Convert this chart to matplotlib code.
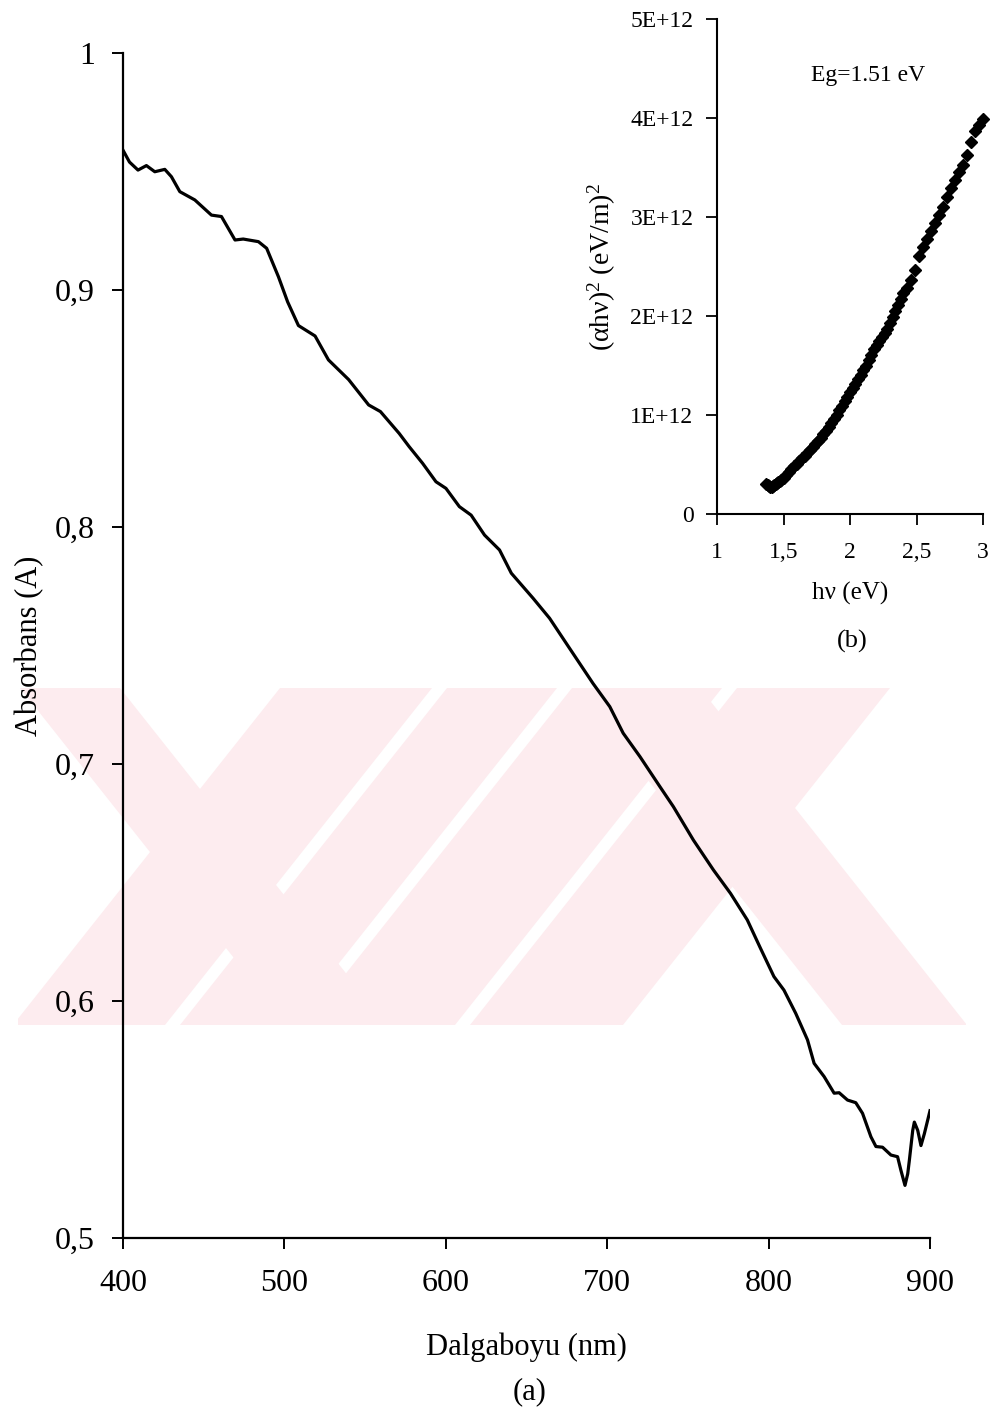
import matplotlib
matplotlib.use("Agg")
import matplotlib.pyplot as plt
from matplotlib.patches import Polygon, Rectangle

plt.rcParams['font.family'] = ['Liberation Serif', 'DejaVu Serif']
plt.rcParams['mathtext.fontset'] = 'custom'
plt.rcParams['mathtext.rm'] = 'Liberation Serif'
plt.rcParams['mathtext.it'] = 'Liberation Serif:italic'

# ---- main spectrum (a) ----
wavelength_nm = [400, 404.0, 409.3, 414.5, 419.7, 425.9, 430.0, 435.2, 444.5, 454.8, 461.0,
                 469.4, 474.5, 483.9, 489.0, 496.3, 502.0, 508.7, 519.0, 527.3, 539.8, 552.2,
                 559.5, 571.1, 577.3, 585.6, 593.9, 600.1, 608.4, 615.7, 624.0, 633.3,
                 640.6, 654.0, 664.3, 676.7, 691.2, 701.6, 709.9, 720.3, 732.7, 741.0,
                 753.4, 765.8, 776.4, 786.8, 795.0, 803.3, 809.5, 816.8, 824.1, 828.2,
                 834.4, 840.6, 843.7, 848.9, 854.0, 858.2, 863.4, 866.5, 870.6, 875.8,
                 879.9, 882.0, 884.5, 886.2, 887.2, 889.3, 890.3, 892.4, 894.4, 896.5, 900.0]
absorbance = [0.9590, 0.9540, 0.9506, 0.9525, 0.9499, 0.9509, 0.9478, 0.9415, 0.9380, 0.9316, 0.9310,
              0.9211, 0.9215, 0.9204, 0.9176, 0.9056, 0.8950, 0.8850, 0.8806, 0.8705, 0.8622, 0.8515,
              0.8487, 0.8395, 0.8339, 0.8269, 0.8191, 0.8163, 0.8086, 0.8050, 0.7966, 0.7903,
              0.7805, 0.7700, 0.7615, 0.7488, 0.7340, 0.7242, 0.7130, 0.7031, 0.6904, 0.6820,
              0.6679, 0.6553, 0.6454, 0.6342, 0.6222, 0.6103, 0.6046, 0.5948, 0.5836, 0.5737,
              0.5681, 0.5611, 0.5613, 0.5582, 0.5571, 0.5526, 0.5427, 0.5386, 0.5383, 0.5350,
              0.5343, 0.5285, 0.5222, 0.5271, 0.5327, 0.5454, 0.5489, 0.5454, 0.5390, 0.5440, 0.5537]
main_xticks = [400, 500, 600, 700, 800, 900]
main_yticks = [0.5, 0.6, 0.7, 0.8, 0.9, 1.0]
main_yticklabels = ['0,5', '0,6', '0,7', '0,8', '0,9', '1']

# ---- inset Tauc plot (b) ----
photon_energy = [1.37, 1.38, 1.39, 1.40, 1.41, 1.42, 1.43, 1.44, 1.45, 1.46, 1.47, 1.48,
                 1.50, 1.52, 1.54, 1.56, 1.58, 1.60, 1.62, 1.64, 1.66, 1.68, 1.70, 1.72,
                 1.74, 1.76, 1.78, 1.80, 1.82, 1.84, 1.86, 1.88, 1.90, 1.92, 1.94, 1.96,
                 1.98, 2.00, 2.02, 2.04, 2.06, 2.08, 2.10, 2.12, 2.14, 2.16, 2.18, 2.20,
                 2.22, 2.24, 2.26, 2.28, 2.30, 2.32, 2.34, 2.36, 2.38, 2.40, 2.43, 2.46,
                 2.49, 2.52, 2.55, 2.58, 2.61, 2.64, 2.67, 2.70, 2.73, 2.76, 2.79, 2.82,
                 2.85, 2.88, 2.91, 2.94, 2.97, 3.00]
tauc_1e12 = [0.30, 0.29, 0.28, 0.27, 0.27, 0.28, 0.29, 0.30, 0.31, 0.32, 0.33, 0.34,
             0.36, 0.39, 0.42, 0.45, 0.48, 0.51, 0.54, 0.57, 0.59, 0.62, 0.65, 0.68,
             0.71, 0.74, 0.77, 0.81, 0.84, 0.88, 0.92, 0.96, 1.00, 1.05, 1.09, 1.14,
             1.18, 1.23, 1.27, 1.31, 1.36, 1.40, 1.45, 1.50, 1.56, 1.61, 1.67, 1.71,
             1.75, 1.79, 1.83, 1.87, 1.93, 1.99, 2.05, 2.11, 2.17, 2.23, 2.28, 2.36,
             2.46, 2.61, 2.70, 2.78, 2.86, 2.94, 3.02, 3.10, 3.20, 3.29, 3.37, 3.45,
             3.53, 3.63, 3.76, 3.87, 3.93, 3.99]
inset_xticks = [1, 1.5, 2, 2.5, 3]
inset_xticklabels = ['1', '1,5', '2', '2,5', '3']
inset_yticks = [0, 1, 2, 3, 4, 5]
inset_yticklabels = ['0', '1E+12', '2E+12', '3E+12', '4E+12', '5E+12']

W, H = 996, 1417
fig = plt.figure(figsize=(W / 100, H / 100), dpi=100)
fig.patch.set_facecolor('white')

# ---- decorative watermark behind the chart (pixel coords -> figure fraction) ----
pink = '#fdecef'
clip = Rectangle((18 / W, 1 - 1025 / H), (966 - 18) / W, (1025 - 688) / H,
                 transform=fig.transFigure, facecolor='none', edgecolor='none')
fig.patches.append(clip)
wm_pink = [
    [(20, 688), (120, 688), (387, 1025), (287, 1025)],      # left "\" stroke
    [(280, 688), (432, 688), (165, 1025), (13, 1025)],      # "/" band 1
    [(447, 688), (557, 688), (290, 1025), (180, 1025)],     # "/" band 2
    [(572, 688), (722, 688), (455, 1025), (305, 1025)],     # "/" band 3
    [(737, 688), (890, 688), (623, 1025), (470, 1025)],     # "/" band 4
    [(575, 688), (700, 688), (967, 1025), (842, 1025)],     # right "\" stroke
]
for poly in wm_pink:
    p = Polygon([(x / W, 1 - y / H) for x, y in poly], closed=True,
                transform=fig.transFigure, facecolor=pink, edgecolor='none', zorder=-5)
    p.set_clip_path(clip)
    fig.patches.append(p)

ax = fig.add_axes([123 / W, 1 - 1238 / H, (930 - 123) / W, (1238 - 53) / H])
ax.set_zorder(2)
ax.patch.set_alpha(0)
ax.plot(wavelength_nm, absorbance, color='black', lw=2.3, solid_joinstyle='round')
ax.set_xlim(400, 900)
ax.set_ylim(0.5, 1.0)
ax.set_xticks(main_xticks)
ax.set_yticks(main_yticks)
ax.set_yticklabels(main_yticklabels)
for s in ['top', 'right']:
    ax.spines[s].set_visible(False)
for s in ['left', 'bottom']:
    ax.spines[s].set_linewidth(1.6)
ax.tick_params(direction='out', length=8, width=1.4, labelsize=23)
ax.tick_params(axis='x', pad=14)
ax.tick_params(axis='y', pad=12)
ax.set_xlabel('Dalgaboyu (nm)', fontsize=22, labelpad=25)
ax.set_ylabel('Absorbans (A)', fontsize=22, labelpad=8)
fig.text(530 / W, 1 - 1392 / H, '(a)', fontsize=22, ha='center', va='center')

ax2 = fig.add_axes([717 / W, 1 - 514 / H, (983 - 717) / W, (514 - 19) / H])
ax2.set_zorder(3)
ax2.patch.set_alpha(0)
ax2.plot(photon_energy, tauc_1e12, linestyle='none', marker='D', markersize=5.8,
         color='black', clip_on=False)
ax2.set_xlim(1, 3)
ax2.set_ylim(0, 5)
ax2.set_xticks(inset_xticks)
ax2.set_xticklabels(inset_xticklabels)
ax2.set_yticks(inset_yticks)
ax2.set_yticklabels(inset_yticklabels)
for s in ['top', 'right']:
    ax2.spines[s].set_visible(False)
for s in ['left', 'bottom']:
    ax2.spines[s].set_linewidth(1.5)
ax2.tick_params(direction='out', length=8, width=1.3, labelsize=17)
ax2.tick_params(axis='x', pad=12)
ax2.tick_params(axis='y', pad=9)
ax2.set_xlabel('hν (eV)', fontsize=18, labelpad=14)
ax2.set_ylabel('(αhν)$^{2}$ (eV/m)$^{2}$', fontsize=20, labelpad=9)
fig.text(868 / W, 1 - 76 / H, 'Eg=1.51 eV', fontsize=17, ha='center', va='center')
fig.text(852 / W, 1 - 641 / H, '(b)', fontsize=19, ha='center', va='center')

fig.savefig('out.png', dpi=100, facecolor='white')
